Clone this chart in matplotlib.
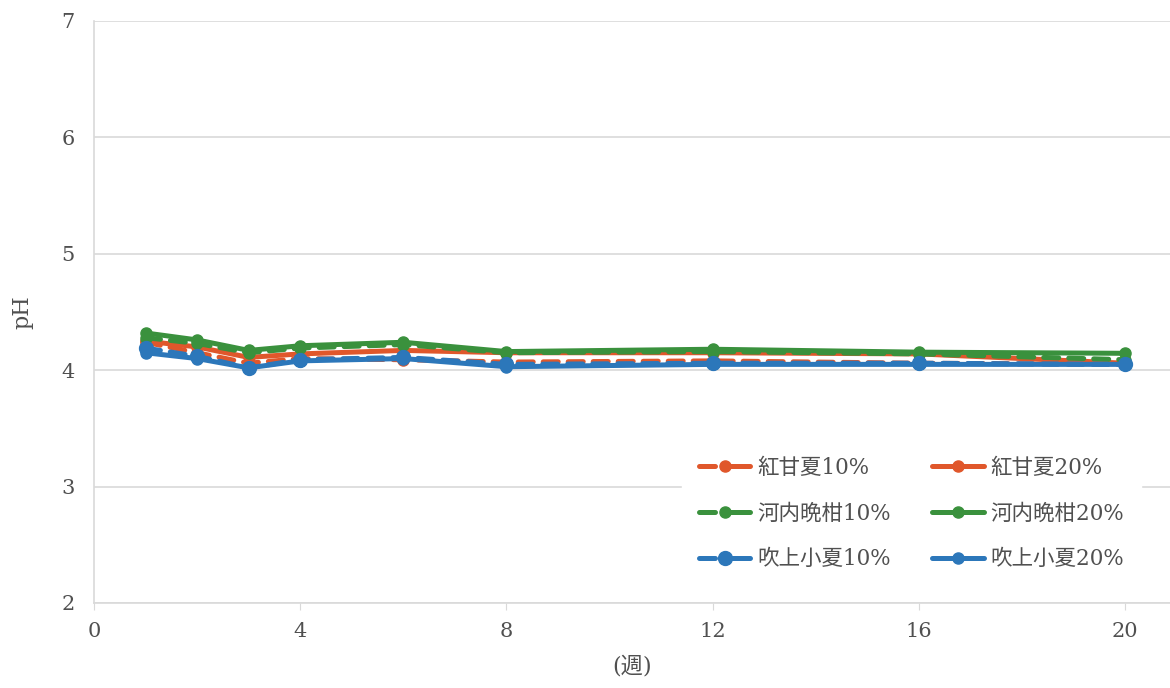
import matplotlib
matplotlib.use("Agg")
import matplotlib.pyplot as plt
from matplotlib.lines import Line2D

plt.rcParams['font.family'] = ['DejaVu Serif', 'Noto Sans CJK JP']

weeks = [1, 2, 3, 4, 6, 8, 12, 16, 20]

benikan_10 = [4.24, 4.15, 4.06, 4.10, 4.09, 4.07, 4.08, 4.06, 4.05]
benikan_20 = [4.25, 4.20, 4.11, 4.14, 4.17, 4.15, 4.15, 4.14, 4.06]
kawachi_10 = [4.28, 4.23, 4.15, 4.19, 4.22, 4.15, 4.16, 4.14, 4.09]
kawachi_20 = [4.32, 4.26, 4.17, 4.21, 4.24, 4.16, 4.18, 4.155, 4.145]
fukiage_10 = [4.19, 4.12, 4.02, 4.09, 4.11, 4.05, 4.06, 4.06, 4.05]
fukiage_20 = [4.15, 4.10, 4.02, 4.08, 4.10, 4.03, 4.05, 4.05, 4.05]

labels = ['紅甘夏10%', '紅甘夏20%', '河内晩柑10%', '河内晩柑20%', '吹上小夏10%', '吹上小夏20%']
x_ticks = [0, 4, 8, 12, 16, 20]
y_ticks = [2, 3, 4, 5, 6, 7]

orange = '#E0572B'
green = '#3A913D'
blue = '#2C77BA'
grid_c = '#D9D9D9'
text_c = '#505050'

fig = plt.figure(figsize=(11.7, 6.88), dpi=100)
ax = fig.add_axes([94 / 1170, 1 - 603 / 688, 1 - 94 / 1170, (603 - 21) / 688])

series = [
    (benikan_10, orange, '--', 8),
    (benikan_20, orange, '-', 8),
    (kawachi_10, green, '--', 8),
    (kawachi_20, green, '-', 8),
    (fukiage_10, blue, '--', 10),
    (fukiage_20, blue, '-', 8),
]
proxies = []
for (vals, col, ls, ms), lab in zip(series, labels):
    dashed = ls == '--'
    ax.plot(weeks, vals, color=col, linewidth=3.6,
            linestyle=(0, (3.0, 2.0)) if dashed else '-',
            marker='o', markersize=ms, label=lab,
            solid_capstyle='round', dash_capstyle='round')
    # legend key: a short dash, a gap, then a dash through the marker
    proxies.append(Line2D([], [], color=col, linewidth=3.6,
                          linestyle=(0, (3.2, 2.0, 5.0, 10.0)) if dashed else '-',
                          marker='o', markersize=ms,
                          solid_capstyle='round', dash_capstyle='round'))

ax.set_xlim(0, 20.87)
ax.set_ylim(2, 7)
ax.set_xticks(x_ticks)
ax.set_yticks(y_ticks)
ax.yaxis.grid(True, color=grid_c, linewidth=1.2)
ax.set_axisbelow(True)
for s in ['top', 'right']:
    ax.spines[s].set_visible(False)
for s in ['left', 'bottom']:
    ax.spines[s].set_color(grid_c)
    ax.spines[s].set_linewidth(1.2)
ax.tick_params(axis='y', length=0, pad=14, labelsize=15, labelcolor=text_c)
ax.tick_params(axis='x', length=5, color=grid_c, pad=9, labelsize=15, labelcolor=text_c)

ax.set_ylabel('pH', fontsize=16, color=text_c, labelpad=20)
ax.set_xlabel('(週)', fontsize=16, color=text_c, labelpad=10)

# two columns, filled row by row: 10% on the left, 20% on the right
order = [0, 2, 4, 1, 3, 5]
leg = ax.legend([proxies[i] for i in order], [labels[i] for i in order],
                ncol=2, loc='lower right', bbox_to_anchor=(0.983, 0.008),
                frameon=True, fontsize=15.5, labelcolor=text_c,
                handlelength=2.4, columnspacing=1.9, labelspacing=1.1,
                borderpad=0.8, handletextpad=0.3)
leg.get_frame().set_facecolor('white')
leg.get_frame().set_edgecolor('white')
leg.get_frame().set_alpha(1.0)

fig.savefig('out.png', dpi=100)
